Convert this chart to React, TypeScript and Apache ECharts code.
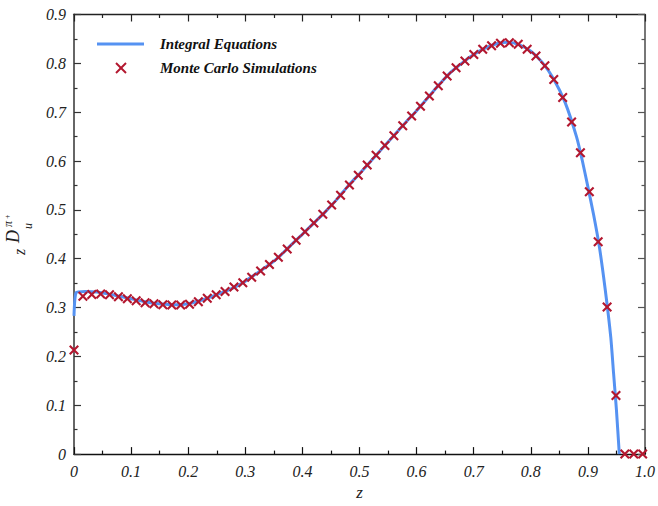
import React, { useEffect, useRef } from "react";
import * as echarts from "echarts";

// Monte Carlo simulation points
const zMC = [
  0, 0.0156, 0.0311, 0.0467, 0.0622, 0.0778, 0.0934, 0.1089, 0.1245, 0.14,
  0.1556, 0.1712, 0.1867, 0.2023, 0.2178, 0.2334, 0.249, 0.2645, 0.2801, 0.2956,
  0.3112, 0.3268, 0.3423, 0.3579, 0.3734, 0.389, 0.4046, 0.4201, 0.4357, 0.4512,
  0.4668, 0.4824, 0.4979, 0.5135, 0.529, 0.5446, 0.5602, 0.5757, 0.5913, 0.6068,
  0.6224, 0.638, 0.6535, 0.6691, 0.6846, 0.7002, 0.7158, 0.7313, 0.7469, 0.7624,
  0.778, 0.7936, 0.8091, 0.8247, 0.8402, 0.8558, 0.8714, 0.8869, 0.9025, 0.918,
  0.9336, 0.9492, 0.9647, 0.9803, 0.9958,
];
const vMC = [
  0.213, 0.323, 0.327, 0.328, 0.326, 0.322, 0.318, 0.314, 0.31, 0.308,
  0.306, 0.305, 0.305, 0.307, 0.312, 0.319, 0.326, 0.333, 0.342, 0.351,
  0.362, 0.375, 0.388, 0.403, 0.42, 0.438, 0.455, 0.473, 0.491, 0.51,
  0.53, 0.551, 0.571, 0.592, 0.612, 0.632, 0.652, 0.672, 0.692, 0.712,
  0.733, 0.754, 0.774, 0.791, 0.805, 0.818, 0.829, 0.836, 0.841, 0.842,
  0.839, 0.829, 0.815, 0.795, 0.767, 0.73, 0.68, 0.617, 0.537, 0.435,
  0.301, 0.12, 0, 0, 0,
];

// Integral equations curve
const zLine = [
  0, 0.004, 0.02, 0.04, 0.06, 0.08, 0.1, 0.12, 0.14, 0.16, 0.18, 0.2, 0.22, 0.24,
  0.26, 0.28, 0.3, 0.32, 0.34, 0.36, 0.38, 0.4, 0.42, 0.44, 0.46, 0.48, 0.5, 0.52,
  0.54, 0.56, 0.58, 0.6, 0.62, 0.64, 0.66, 0.68, 0.7, 0.72, 0.74, 0.76, 0.78, 0.8,
  0.82, 0.84, 0.86, 0.88, 0.89, 0.9, 0.91, 0.92, 0.93, 0.94, 0.945, 0.95, 0.955,
];
const vLine = [
  0.283, 0.331, 0.333, 0.332, 0.328, 0.323, 0.318, 0.313, 0.309, 0.307, 0.306, 0.308, 0.314, 0.322,
  0.331, 0.341, 0.354, 0.37, 0.386, 0.405, 0.428, 0.45, 0.473, 0.496, 0.521, 0.549, 0.574, 0.6,
  0.626, 0.652, 0.678, 0.703, 0.73, 0.757, 0.782, 0.801, 0.818, 0.831, 0.84, 0.843, 0.838, 0.825,
  0.802, 0.768, 0.72, 0.65, 0.602, 0.547, 0.49, 0.425, 0.34, 0.24, 0.165, 0.09, 0,
];

const xTickLabels = ["0", "0.1", "0.2", "0.3", "0.4", "0.5", "0.6", "0.7", "0.8", "0.9", "1.0"];
const yTickLabels = ["0", "0.1", "0.2", "0.3", "0.4", "0.5", "0.6", "0.7", "0.8", "0.9"];
const seriesNames = ["Integral Equations", "Monte Carlo Simulations"];

const SERIF = "'Liberation Serif', 'DejaVu Serif', serif";
const BLUE = "#5592F2";
const RED = "#B3172F";
const CROSS =
  "path://M0,1.5 L1.5,0 L5,3.5 L8.5,0 L10,1.5 L6.5,5 L10,8.5 L8.5,10 L5,6.5 L1.5,10 L0,8.5 L3.5,5 Z";

export default function App() {
  const ref = useRef<HTMLDivElement>(null);
  useEffect(() => {
    if (!ref.current) return;
    document.body.style.margin = "0";
    const chart = echarts.init(ref.current, null, { renderer: "svg" });
    const labelStyle = {
      fontFamily: SERIF,
      fontStyle: "italic" as const,
      fontSize: 16,
      color: "#222",
    };
    const tickCommon = (color: string) => ({
      axisTick: { show: true, inside: true, length: 7, lineStyle: { color, width: 1.2 } },
      minorTick: { show: true, splitNumber: 2, length: 3.5, lineStyle: { color, width: 1.2 } },
      splitLine: { show: false },
      minorSplitLine: { show: false },
    });
    chart.setOption({
      animation: false,
      backgroundColor: "#fff",
      grid: { left: 74, right: 10.5, top: 14.5, bottom: 49, containLabel: false },
      xAxis: [
        {
          type: "value",
          min: 0,
          max: 1,
          interval: 0.1,
          position: "bottom",
          axisLine: { show: true, onZero: false, lineStyle: { color: "#111", width: 1.3 } },
          ...tickCommon("#111"),
          axisLabel: {
            ...labelStyle,
            margin: 9,
            formatter: (v: number) => xTickLabels[Math.round(v * 10)],
          },
          name: "z",
          nameLocation: "middle",
          nameGap: 28,
          nameTextStyle: { ...labelStyle, fontSize: 17 },
        },
        {
          type: "value",
          min: 0,
          max: 1,
          interval: 0.1,
          position: "top",
          axisLine: { show: true, onZero: false, lineStyle: { color: "#222", width: 1.3 } },
          ...tickCommon("#222"),
          axisLabel: { show: false },
        },
      ],
      yAxis: [
        {
          type: "value",
          min: 0,
          max: 0.9,
          interval: 0.1,
          position: "left",
          axisLine: { show: true, onZero: false, lineStyle: { color: "#666", width: 2 } },
          ...tickCommon("#333"),
          axisLabel: {
            ...labelStyle,
            margin: 8,
            formatter: (v: number) => yTickLabels[Math.round(v * 10)],
          },
        },
        {
          type: "value",
          min: 0,
          max: 0.9,
          interval: 0.1,
          position: "right",
          axisLine: { show: true, onZero: false, lineStyle: { color: "#555", width: 1.6 } },
          ...tickCommon("#555"),
          axisLabel: { show: false },
        },
      ],
      series: [
        {
          name: seriesNames[0],
          type: "line",
          data: zLine.map((z, i) => [z, vLine[i]]),
          smooth: 0.2,
          symbol: "none",
          lineStyle: { color: BLUE, width: 3 },
          z: 2,
        },
        {
          name: seriesNames[1],
          type: "scatter",
          data: zMC.map((z, i) => [z, vMC[i]]),
          symbol: CROSS,
          symbolSize: 10,
          itemStyle: { color: RED, opacity: 1 },
          z: 3,
        },
      ],
      graphic: [
        { type: "line", shape: { x1: 97, y1: 44, x2: 144, y2: 44 }, style: { stroke: BLUE, lineWidth: 3 } },
        { type: "line", shape: { x1: 116, y1: 63, x2: 126, y2: 73 }, style: { stroke: RED, lineWidth: 2 } },
        { type: "line", shape: { x1: 126, y1: 63, x2: 116, y2: 73 }, style: { stroke: RED, lineWidth: 2 } },
        {
          type: "text",
          x: 160,
          y: 44,
          style: {
            text: seriesNames[0],
            font: `italic bold 15px ${SERIF}`,
            fill: "#111",
            verticalAlign: "middle",
          },
        },
        {
          type: "text",
          x: 160,
          y: 68,
          style: {
            text: seriesNames[1],
            font: `italic bold 15px ${SERIF}`,
            fill: "#111",
            verticalAlign: "middle",
          },
        },
        {
          type: "group",
          x: 18,
          y: 258,
          rotation: Math.PI / 2,
          children: [
            { type: "text", x: 3, y: 1, style: { text: "z", font: `italic 16px ${SERIF}`, fill: "#222", verticalAlign: "middle" } },
            { type: "text", x: 15, y: -5, style: { text: "D", font: `italic 18px ${SERIF}`, fill: "#222", verticalAlign: "middle" } },
            { type: "text", x: 31, y: -10, style: { text: "π", font: `italic 12px ${SERIF}`, fill: "#222", verticalAlign: "middle" } },
            { type: "text", x: 39, y: -11, style: { text: "+", font: `8px ${SERIF}`, fill: "#222", verticalAlign: "middle" } },
            { type: "text", x: 29, y: 10, style: { text: "u", font: `italic 12px ${SERIF}`, fill: "#222", verticalAlign: "middle" } },
          ],
        },
      ],
    });
    return () => chart.dispose();
  }, []);
  return <div ref={ref} style={{ width: 658, height: 506 }} />;
}
